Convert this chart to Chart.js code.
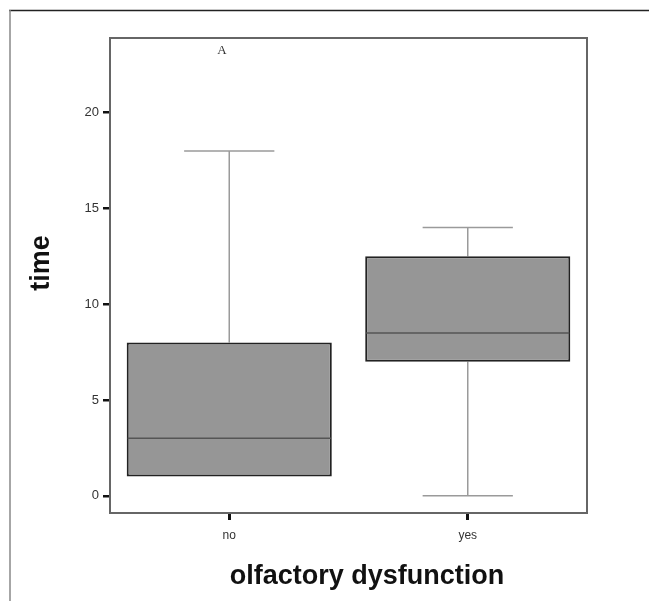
<!DOCTYPE html>
<html>
<head>
<meta charset="utf-8">
<script src="https://cdn.jsdelivr.net/npm/chart.js@4/dist/chart.umd.min.js"></script>
<style>
  body { margin: 0; background: #fff; }
</style>
</head>
<body>
<canvas id="chart" width="649" height="601"></canvas>
<script>
// box plot values
const categories = ["no", "yes"];
const q1 = [1, 7];
const median = [3, 8.5];
const q3 = [8, 12.5];
const whiskerLow = [1, 0];
const whiskerHigh = [18, 14];
const yTicks = [0, 5, 10, 15, 20];

const boxPlot = {
  id: "boxPlot",
  beforeDraw(chart) {
    const ctx = chart.ctx;
    ctx.save();
    // outer figure frame
    ctx.strokeStyle = "#222";
    ctx.lineWidth = 1.5;
    ctx.beginPath();
    ctx.moveTo(9, 10.5);
    ctx.lineTo(649, 10.5);
    ctx.stroke();
    ctx.strokeStyle = "#888";
    ctx.beginPath();
    ctx.moveTo(10, 10);
    ctx.lineTo(10, 601);
    ctx.stroke();
    ctx.restore();
  },
  beforeDatasetsDraw(chart) {
    const ctx = chart.ctx;
    const y = chart.scales.y;
    const bars = chart.getDatasetMeta(0).data;
    ctx.save();
    ctx.strokeStyle = "#9a9a9a";
    ctx.lineWidth = 1.5;
    bars.forEach((bar, i) => {
      const cap = bar.width * 0.44;
      const pairs = [[q3[i], whiskerHigh[i]], [q1[i], whiskerLow[i]]];
      pairs.forEach(([from, to]) => {
        if (from === to) return;
        ctx.beginPath();
        ctx.moveTo(bar.x, y.getPixelForValue(from));
        ctx.lineTo(bar.x, y.getPixelForValue(to));
        ctx.moveTo(bar.x - cap / 2, y.getPixelForValue(to));
        ctx.lineTo(bar.x + cap / 2, y.getPixelForValue(to));
        ctx.stroke();
      });
    });
    ctx.restore();
  },
  afterDatasetsDraw(chart) {
    const ctx = chart.ctx;
    const y = chart.scales.y;
    const bars = chart.getDatasetMeta(0).data;
    ctx.save();
    ctx.strokeStyle = "#555";
    ctx.lineWidth = 1.5;
    bars.forEach((bar, i) => {
      const py = y.getPixelForValue(median[i]);
      ctx.beginPath();
      ctx.moveTo(bar.x - bar.width / 2 + 1, py);
      ctx.lineTo(bar.x + bar.width / 2 - 1, py);
      ctx.stroke();
    });
    ctx.restore();
  },
  afterDraw(chart) {
    const ctx = chart.ctx;
    const a = chart.chartArea;
    ctx.save();
    ctx.strokeStyle = "#666";
    ctx.lineWidth = 2;
    ctx.strokeRect(a.left, a.top, a.right - a.left, a.bottom - a.top);

    ctx.fillStyle = "#333";
    ctx.font = "13px 'Liberation Serif', serif";
    ctx.textAlign = "center";
    ctx.textBaseline = "middle";
    ctx.fillText("A", 222, 51);

    ctx.fillStyle = "#111";
    ctx.font = "bold 27px 'Liberation Sans', Arial, sans-serif";
    ctx.fillText("olfactory dysfunction", 367, 577);

    ctx.translate(42, 263);
    ctx.rotate(-Math.PI / 2);
    ctx.fillText("time", 0, 0);
    ctx.restore();
  }
};

new Chart(document.getElementById("chart").getContext("2d"), {
  type: "bar",
  data: {
    labels: categories,
    datasets: [
      {
        data: categories.map((c, i) => [q1[i], q3[i]]),
        backgroundColor: "#969696",
        borderColor: "#222",
        borderWidth: 2,
        borderSkipped: false,
        barPercentage: 0.86,
        categoryPercentage: 1
      }
    ]
  },
  options: {
    responsive: false,
    animation: false,
    layout: { padding: { top: 38, right: 62, left: 0, bottom: 0 } },
    plugins: { legend: { display: false }, tooltip: { enabled: false } },
    scales: {
      x: {
        offset: true,
        border: { display: false },
        grid: { offset: false, drawOnChartArea: false, tickLength: 7, lineWidth: 3, color: "#111" },
        ticks: { color: "#333", padding: 8, font: { size: 12, family: "'Liberation Sans', Arial, sans-serif" } },
        afterFit(scale) { scale.height = 88; }
      },
      y: {
        min: -0.9,
        max: 23.9,
        border: { display: false },
        grid: { drawOnChartArea: false, tickLength: 7, lineWidth: 2.5, color: "#111" },
        ticks: { color: "#333", padding: 4, font: { size: 13, family: "'Liberation Sans', Arial, sans-serif" } },
        afterBuildTicks(scale) { scale.ticks = yTicks.map(v => ({ value: v })); },
        afterFit(scale) { scale.width = 110; }
      }
    }
  },
  plugins: [boxPlot]
});
</script>
</body>
</html>
